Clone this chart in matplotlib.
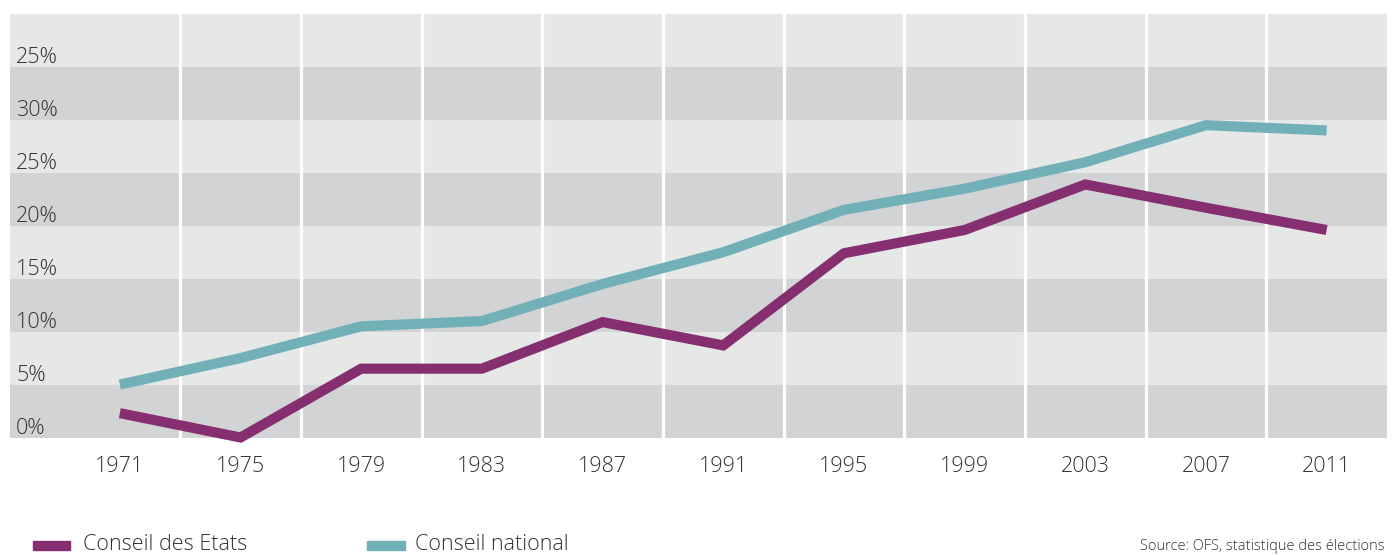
import matplotlib
matplotlib.use("Agg")
import matplotlib.pyplot as plt
from matplotlib.transforms import blended_transform_factory

plt.rcParams['font.family'] = ['Open Sans', 'DejaVu Sans']
plt.rcParams['font.weight'] = 'light'

# data (share of women, %)
years = [1971, 1975, 1979, 1983, 1987, 1991, 1995, 1999, 2003, 2007, 2011]
etats = [2.3, 0.0, 6.5, 6.5, 10.9, 8.7, 17.4, 19.6, 23.9, 21.7, 19.6]
national = [5.0, 7.5, 10.5, 11.0, 14.5, 17.5, 21.5, 23.5, 26.0, 29.5, 29.0]
y_ticks = [0, 5, 10, 15, 20, 25, 30, 35]
y_labels = ['0%', '5%', '10%', '15%', '20%', '25%', '30%', '25%']
series_names = ['Conseil des Etats', 'Conseil national']
source = 'Source: OFS, statistique des élections'

purple = '#852f70'
teal = '#72b0b8'
light = '#e6e7e7'
dark = '#d2d3d5'
txt = '#333333'

W, H = 1392, 555
fig = plt.figure(figsize=(W / 100, H / 100), dpi=100)
ax = fig.add_axes([10 / W, 1 - 437.5 / H, 1377 / W, 423.5 / H])

# alternating bands
for i in range(8):
    ax.axhspan(i * 5, i * 5 + 5, color=dark if i % 2 == 0 else light, lw=0, zorder=0)

# white separators between years
for a, b in zip(years[:-1], years[1:]):
    ax.axvline((a + b) / 2, color='white', lw=2.3, zorder=1)

ax.plot(years, national, color=teal, lw=7.3, solid_capstyle='butt',
        solid_joinstyle='miter', zorder=3, clip_on=False)
ax.plot(years, etats, color=purple, lw=7.3, solid_capstyle='butt',
        solid_joinstyle='miter', zorder=3, clip_on=False)

ax.set_xlim(1971 - 0.91 * 4, 2011 + 0.5 * 4)
ax.set_ylim(0, 40)
ax.set_xticks(years)
ax.set_xticklabels([str(y) for y in years], fontsize=15.5, color=txt)
ax.tick_params(axis='x', length=0, pad=13)
ax.set_yticks([])
for s in ax.spines.values():
    s.set_visible(False)

tr = blended_transform_factory(ax.transAxes, ax.transData)
for v, lab in zip(y_ticks, y_labels):
    ax.text(6 / 1377, v + 0.35, lab, transform=tr, ha='left', va='baseline',
            fontsize=15.5, color=txt, zorder=4)

# legend drawn by hand at the bottom
fig.patches.append(plt.Rectangle((33 / W, 1 - 550 / H), 37 / W, 9 / H,
                                 transform=fig.transFigure, color=purple))
fig.text(83 / W, 1 - 545 / H, series_names[0], ha='left', va='center', fontsize=15.5, color=txt)
fig.patches.append(plt.Rectangle((367 / W, 1 - 550 / H), 38 / W, 9 / H,
                                 transform=fig.transFigure, color=teal))
fig.text(415 / W, 1 - 545 / H, series_names[1], ha='left', va='center', fontsize=15.5, color=txt)
fig.text(1385 / W, 1 - 546 / H, source, ha='right', va='center', fontsize=10.5, color=txt)

fig.savefig('out.png', dpi=100)
